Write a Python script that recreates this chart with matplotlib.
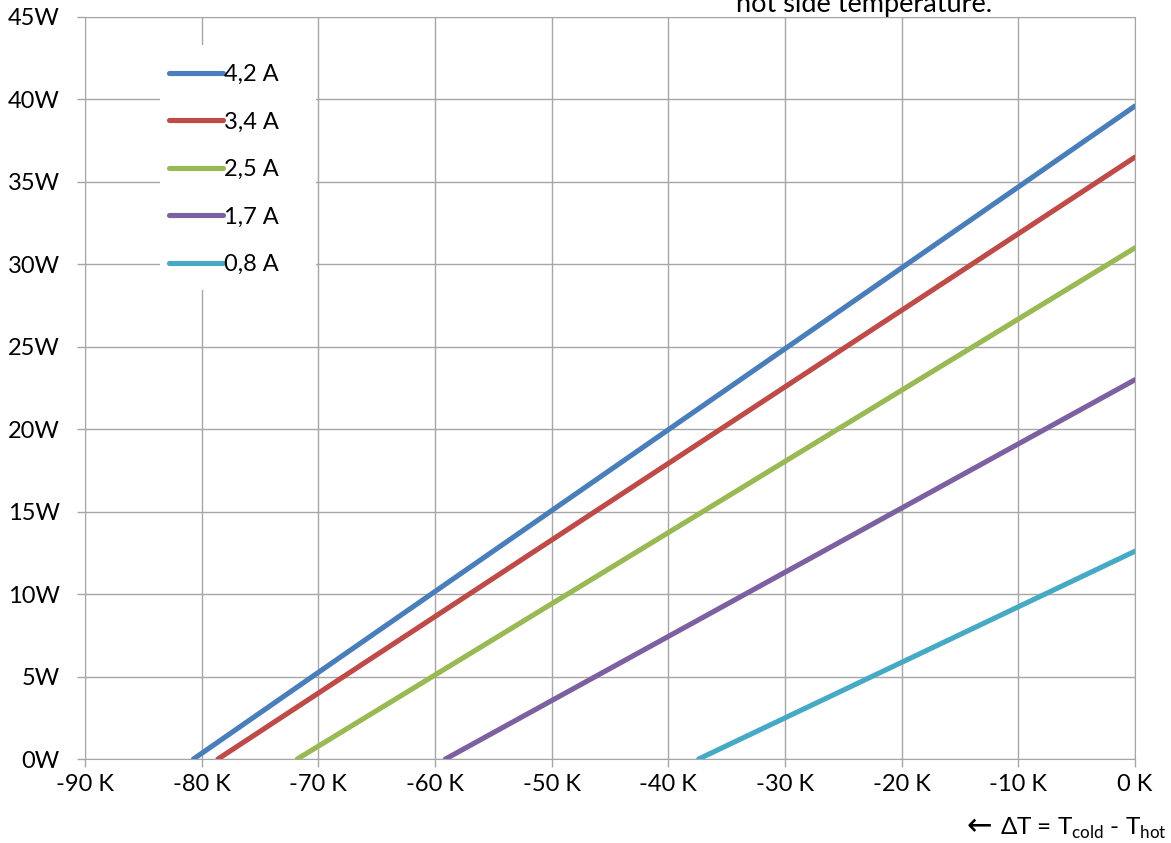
import matplotlib.pyplot as plt
import numpy as np
from matplotlib.patches import Rectangle

plt.rcParams['font.family'] = ['Lato', 'DejaVu Sans']
plt.rcParams['mathtext.fontset'] = 'custom'
plt.rcParams['mathtext.rm'] = 'Lato'

# currents and the two ends of each line: x at 0 W, and power at 0 K
labels = ['4,2 A', '3,4 A', '2,5 A', '1,7 A', '0,8 A']
dt_zero = [-80.7, -78.6, -71.8, -59.1, -37.4]
q_max = [39.6, 36.5, 31.0, 23.0, 12.6]
colors = ['#4a7ebb', '#be4b48', '#98b954', '#7d60a0', '#46aac5']

x_ticks = np.arange(-90, 1, 10)
y_ticks = np.arange(0, 46, 5)

fig = plt.figure(figsize=(11.71, 8.43), dpi=100)
ax = fig.add_axes([85/1171, 1-759/843, 1050/1171, 742/843])

for lab, x0, q, c in zip(labels, dt_zero, q_max, colors):
    ax.plot([x0, 0], [0, q], color=c, lw=3.7, solid_capstyle='round', label=lab, zorder=3)

ax.set_xlim(-90, 0)
ax.set_ylim(0, 45)
ax.set_xticks(x_ticks)
ax.set_xticklabels(['%d K' % v for v in x_ticks])
ax.set_yticks(y_ticks)
ax.set_yticklabels(['%dW' % v for v in y_ticks])
ax.grid(True, color='#a6a6a6', lw=1)
for s in ax.spines.values():
    s.set_color('#a6a6a6')
ax.tick_params(colors='#a6a6a6', labelcolor='black', labelsize=17, length=6, width=1)
ax.tick_params(axis='x', pad=5)
ax.tick_params(axis='y', pad=12)

# white legend area hiding the grid
ax.add_patch(Rectangle((75/1050, 1-273/742), 156/1050, 245/742, transform=ax.transAxes,
                       facecolor='white', edgecolor='none', zorder=2.5))
leg = ax.legend(loc='upper left', bbox_to_anchor=(0.062, 0.962), fontsize=17,
                handlelength=2.3, handletextpad=0.05, labelspacing=1.12,
                borderaxespad=0, borderpad=0.8, frameon=False)
leg.set_zorder(4)

fig.text(864/1171, 1-12/843, 'hot side temperature.', fontsize=19.5, ha='center', va='baseline')
fig.text(979/1171, 1-835/843, '←', family='DejaVu Sans', fontsize=22, ha='center', va='baseline')
fig.text(1000/1171, 1-835/843, r'ΔT = T$_{\rm cold}$ - T$_{\rm hot}$',
         fontsize=17.5, ha='left', va='baseline')

plt.savefig('out.png', dpi=100)
